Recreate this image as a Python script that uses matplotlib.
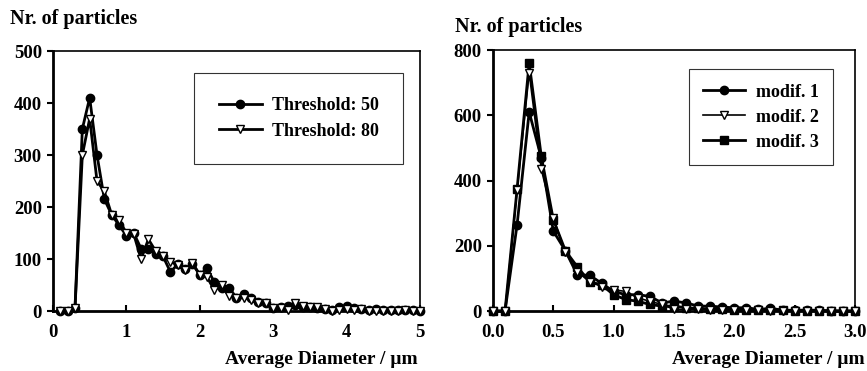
import matplotlib
matplotlib.use("Agg")
import matplotlib.pyplot as plt
import numpy as np

plt.rcParams.update({
    "font.family": "Liberation Serif",
    "font.weight": "bold",
    "font.size": 13,
})

# left panel: threshold comparison
d_left = np.round(np.arange(1, 51) * 0.1, 1)
thr50 = [0, 0, 5, 350, 410, 300, 215, 185, 165, 145,
         150, 120, 120, 110, 105, 75, 90, 80, 90, 70,
         82, 55, 45, 45, 25, 32, 25, 18, 15, 5,
         8, 10, 12, 8, 8, 5, 3, 2, 7, 10,
         5, 3, 2, 3, 2, 1, 1, 2, 1, 0]
thr80 = [0, 0, 5, 300, 370, 250, 230, 185, 175, 150,
         148, 100, 138, 115, 105, 95, 88, 78, 92, 70,
         65, 40, 50, 28, 25, 25, 22, 15, 15, 5,
         5, 2, 15, 10, 8, 7, 4, 0, 2, 3,
         2, 3, 0, 0, 0, 0, 0, 1, 0, 0]

# right panel: modifications
d_right = np.round(np.arange(0, 31) * 0.1, 1)
modif1 = [0, 0, 265, 610, 470, 245, 185, 110, 110, 85,
          60, 50, 50, 45, 25, 30, 25, 15, 15, 12,
          10, 10, 5, 8, 3, 2, 3, 2, 1, 0, 0]
modif2 = [0, 0, 370, 730, 435, 285, 180, 120, 90, 75,
          65, 60, 40, 30, 20, 5, 5, 5, 3, 3,
          2, 2, 2, 1, 1, 1, 0, 0, 0, 0, 0]
modif3 = [0, 0, 375, 760, 475, 280, 185, 135, 90, 80,
          50, 35, 30, 20, 15, 15, 10, 8, 6, 5,
          4, 3, 3, 2, 2, 1, 1, 0, 0, 0, 0]

fig = plt.figure(figsize=(8.67, 3.71), dpi=100)
ax1 = fig.add_axes([0.0611, 0.1617, 0.4233, 0.7008])
ax2 = fig.add_axes([0.5686, 0.1617, 0.4175, 0.7035])


def style(ax):
    for side in ("left", "bottom"):
        ax.spines[side].set_linewidth(2.0)
    for side in ("top", "right"):
        ax.spines[side].set_linewidth(1.2)
    ax.tick_params(axis="y", direction="out", length=4, width=1.5, labelsize=13.5, pad=4)
    ax.tick_params(axis="x", direction="in", length=4, width=1.5, labelsize=13.5, pad=9)
    for lab in ax.get_xticklabels() + ax.get_yticklabels():
        lab.set_fontweight("bold")


kw = dict(color="black", lw=2.0, ms=6, clip_on=False, zorder=3)
ax1.plot(d_left, thr50, marker="o", mfc="black", mec="black", label="Threshold: 50", **kw)
ax1.plot(d_left, thr80, marker="v", mfc="white", mec="black", label="Threshold: 80", **kw)
ax1.set_xlim(0, 5)
ax1.set_ylim(0, 500)
ax1.set_xticks(range(0, 6))
ax1.set_yticks(range(0, 501, 100))
style(ax1)
leg1 = ax1.legend(loc="upper right", bbox_to_anchor=(0.954, 0.915), fancybox=False,
                  edgecolor="black", handlelength=2.4, handletextpad=0.55,
                  borderpad=1.35, labelspacing=0.45, borderaxespad=0,
                  prop={"weight": "bold", "size": 13})
leg1.get_frame().set_linewidth(0.8)

ax2.plot(d_right, modif1, marker="o", mfc="black", mec="black", label="modif. 1", **kw)
ax2.plot(d_right, modif2, marker="v", mfc="white", mec="black", label="modif. 2",
         color="black", lw=1.2, ms=6, clip_on=False, zorder=4)
ax2.plot(d_right, modif3, marker="s", mfc="black", mec="black", label="modif. 3",
         color="black", lw=2.0, ms=5.5, clip_on=False, zorder=3)
ax2.set_xlim(0, 3)
ax2.set_ylim(0, 800)
ax2.set_xticks(np.arange(0, 3.01, 0.5))
ax2.set_xticklabels([f"{v:.1f}" for v in np.arange(0, 3.01, 0.5)])
ax2.set_yticks(range(0, 801, 200))
style(ax2)
leg2 = ax2.legend(loc="upper right", bbox_to_anchor=(0.939, 0.927), fancybox=False,
                  edgecolor="black", handlelength=2.3, handletextpad=0.6,
                  borderpad=0.8, labelspacing=0.45, borderaxespad=0,
                  prop={"weight": "bold", "size": 13})
leg2.get_frame().set_linewidth(0.8)

fig.text(10 / 867, 1 - 19 / 371, "Nr. of particles", fontsize=14.5, fontweight="bold",
         va="center", ha="left")
fig.text(455 / 867, 1 - 27 / 371, "Nr. of particles", fontsize=14.5, fontweight="bold",
         va="center", ha="left")
fig.text(418 / 867, 1 - 360 / 371, "Average Diameter / µm", fontsize=14,
         fontweight="bold", va="center", ha="right")
fig.text(865 / 867, 1 - 360 / 371, "Average Diameter / µm", fontsize=14,
         fontweight="bold", va="center", ha="right")

fig.savefig("out.png", dpi=100)
